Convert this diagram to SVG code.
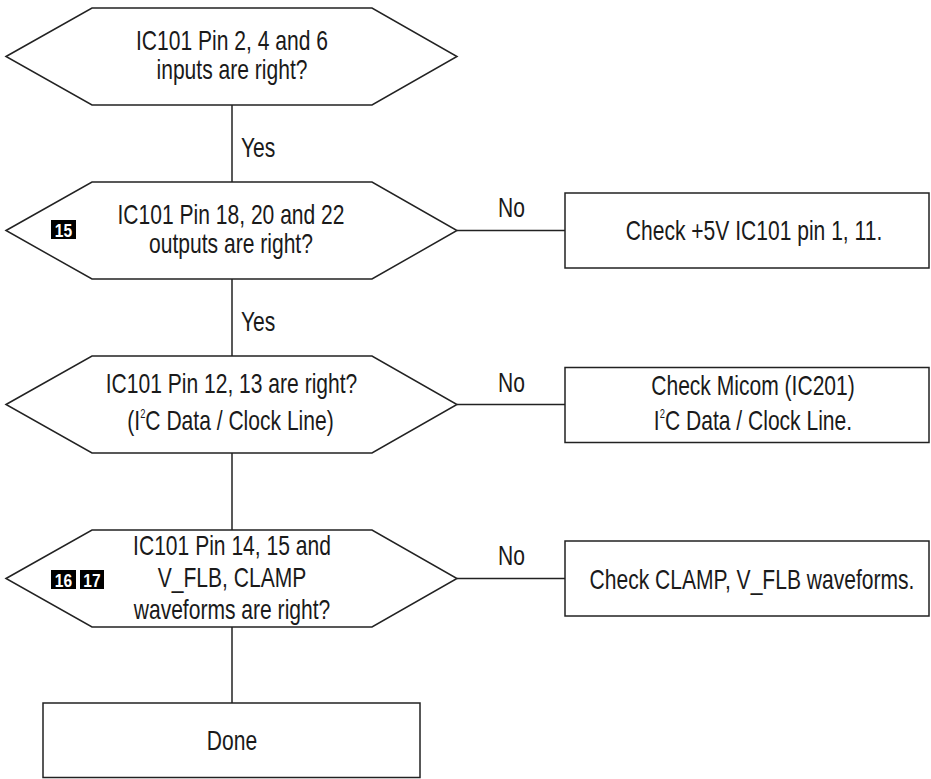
<svg xmlns="http://www.w3.org/2000/svg" width="931" height="779" viewBox="0 0 931 779">
<style>
  .shape { fill: #ffffff; stroke: #222222; stroke-width: 1.5; }
  .conn { fill: none; stroke: #222222; stroke-width: 1.5; }
  .t { font-family: "Liberation Sans", Arial, sans-serif; font-size: 27px; fill: #1a1a1a; text-anchor: middle; }
  .lbl { font-family: "Liberation Sans", Arial, sans-serif; font-size: 27px; fill: #1a1a1a; }
  .sup { font-size: 12px; }
  .badge { fill: #000000; }
  .bt { font-family: "Liberation Sans", Arial, sans-serif; font-size: 19px; font-weight: bold; fill: #ffffff; text-anchor: middle; }
</style>
<rect width="931" height="779" fill="#ffffff"/>

<g id="connectors">
  <line class="conn" x1="232" y1="105" x2="232" y2="182"/>
  <line class="conn" x1="232" y1="279" x2="232" y2="356"/>
  <line class="conn" x1="232" y1="453" x2="232" y2="530"/>
  <line class="conn" x1="232" y1="627" x2="232" y2="703"/>
  <line class="conn" x1="457" y1="230.5" x2="565" y2="230.5"/>
  <line class="conn" x1="457" y1="404.5" x2="565" y2="404.5"/>
  <line class="conn" x1="457" y1="578.5" x2="565" y2="578.5"/>
  <text class="lbl" transform="translate(241,157) scale(0.78,1)">Yes</text>
  <text class="lbl" transform="translate(241,331) scale(0.78,1)">Yes</text>
  <text class="lbl" transform="translate(498,217) scale(0.78,1)">No</text>
  <text class="lbl" transform="translate(498,392) scale(0.78,1)">No</text>
  <text class="lbl" transform="translate(498,565) scale(0.78,1)">No</text>
</g>

<g id="decision1">
  <polygon class="shape" points="6,56.5 92,8 372,8 457,56.5 372,105 92,105"/>
  <text class="t" transform="translate(232,50) scale(0.78,1)">IC101 Pin 2, 4 and 6</text>
  <text class="t" transform="translate(232,79) scale(0.78,1)">inputs are right?</text>
</g>

<g id="decision2">
  <polygon class="shape" points="6,230.5 92,182 372,182 457,230.5 372,279 92,279"/>
  <rect class="badge" x="51" y="220" width="25" height="19"/>
  <text class="bt" transform="translate(63.5,236.5) scale(0.82,1)">15</text>
  <text class="t" transform="translate(231,224) scale(0.78,1)">IC101 Pin 18, 20 and 22</text>
  <text class="t" transform="translate(231,253) scale(0.78,1)">outputs are right?</text>
</g>

<g id="decision3">
  <polygon class="shape" points="6,404.5 92,356 372,356 457,404.5 372,453 92,453"/>
  <text class="t" transform="translate(231.5,393) scale(0.78,1)">IC101 Pin 12, 13 are right?</text>
  <text class="t" transform="translate(230.5,430) scale(0.78,1)">(I<tspan class="sup" dy="-12">2</tspan><tspan dy="12">C Data / Clock Line)</tspan></text>
</g>

<g id="decision4">
  <polygon class="shape" points="6,578.5 92,530 372,530 457,578.5 372,627 92,627"/>
  <rect class="badge" x="51" y="570" width="25" height="19"/>
  <text class="bt" transform="translate(63.5,586.5) scale(0.82,1)">16</text>
  <rect class="badge" x="80" y="570" width="24" height="19"/>
  <text class="bt" transform="translate(92,586.5) scale(0.82,1)">17</text>
  <text class="t" transform="translate(232,555) scale(0.78,1)">IC101 Pin 14, 15 and</text>
  <text class="t" transform="translate(232,587) scale(0.78,1)">V_FLB, CLAMP</text>
  <text class="t" transform="translate(232,619) scale(0.78,1)">waveforms are right?</text>
</g>

<g id="action1">
  <rect class="shape" x="565" y="193" width="364" height="75"/>
  <text class="t" transform="translate(754,240) scale(0.78,1)">Check +5V IC101 pin 1, 11.</text>
</g>

<g id="action2">
  <rect class="shape" x="565" y="367.5" width="364" height="75"/>
  <text class="t" transform="translate(753,395) scale(0.78,1)">Check Micom (IC201)</text>
  <text class="t" transform="translate(753,430) scale(0.78,1)">I<tspan class="sup" dy="-12">2</tspan><tspan dy="12">C Data / Clock Line.</tspan></text>
</g>

<g id="action3">
  <rect class="shape" x="565" y="541" width="364" height="75"/>
  <text class="t" transform="translate(752,589) scale(0.78,1)">Check CLAMP, V_FLB waveforms.</text>
</g>

<g id="done">
  <rect class="shape" x="43" y="703" width="377" height="74.5"/>
  <text class="t" transform="translate(232,750) scale(0.78,1)">Done</text>
</g>
</svg>
